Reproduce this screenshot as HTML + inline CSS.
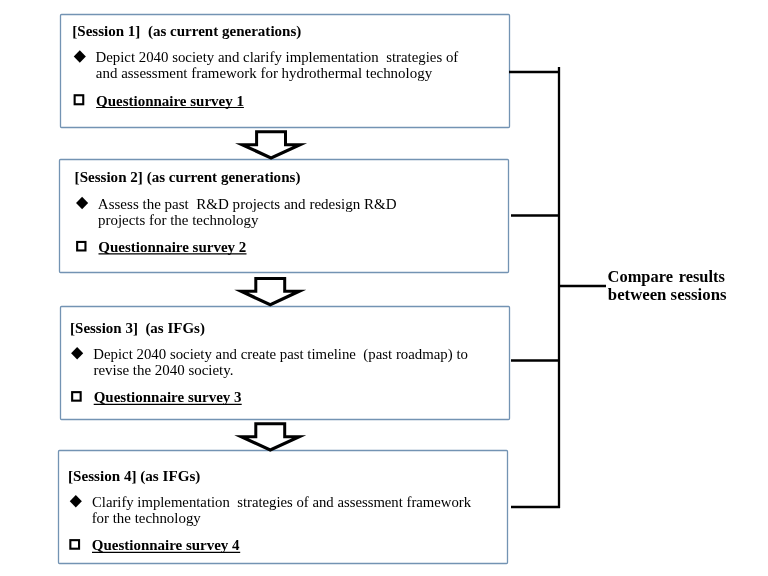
<!DOCTYPE html><html><head><meta charset="utf-8"><style>html,body{margin:0;padding:0;background:#fff;width:768px;height:576px;overflow:hidden}svg{display:block;will-change:transform}text{font-family:"Liberation Serif",serif;white-space:pre;fill:#000}</style></head><body>
<svg width="768" height="576" viewBox="0 0 768 576">
<rect x="60.5" y="14.5" width="449" height="113" rx="1" fill="#fff" stroke="#7393b3" stroke-width="1.3"/>
<rect x="59.5" y="159.5" width="449" height="113" rx="1" fill="#fff" stroke="#7393b3" stroke-width="1.3"/>
<rect x="60.5" y="306.5" width="449" height="113" rx="1" fill="#fff" stroke="#7393b3" stroke-width="1.3"/>
<rect x="58.5" y="450.5" width="449" height="113" rx="1" fill="#fff" stroke="#7393b3" stroke-width="1.3"/>
<polygon points="255.10,130.20 287.00,130.20 287.00,143.15 307.05,143.15 271.05,159.80 235.05,143.15 255.10,143.15" fill="#000"/>
<polygon points="258.10,133.20 284.00,133.20 284.00,146.15 292.82,146.15 271.05,156.22 249.28,146.15 258.10,146.15" fill="#fff"/>
<polygon points="254.30,276.90 286.20,276.90 286.20,289.85 306.25,289.85 270.25,306.50 234.25,289.85 254.30,289.85" fill="#000"/>
<polygon points="257.30,279.90 283.20,279.90 283.20,292.85 292.02,292.85 270.25,302.92 248.48,292.85 257.30,292.85" fill="#fff"/>
<polygon points="254.30,422.20 286.20,422.20 286.20,435.15 306.25,435.15 270.25,451.80 234.25,435.15 254.30,435.15" fill="#000"/>
<polygon points="257.30,425.20 283.20,425.20 283.20,438.15 292.02,438.15 270.25,448.22 248.48,438.15 257.30,438.15" fill="#fff"/>
<g stroke="#000" stroke-width="2.3" fill="none">
<line x1="559" y1="67" x2="559" y2="508"/>
<line x1="509" y1="72" x2="560" y2="72"/>
<line x1="511" y1="215.5" x2="560" y2="215.5"/>
<line x1="511" y1="360.5" x2="560" y2="360.5"/>
<line x1="511" y1="507" x2="560" y2="507"/>
<line x1="558" y1="286" x2="606" y2="286"/>
</g>
<polygon points="79.8,50.30 85.85,56.5 79.8,62.70 73.75,56.5" fill="#000"/>
<polygon points="82.1,196.80 88.15,203.0 82.1,209.20 76.05,203.0" fill="#000"/>
<polygon points="77.15,347.10 83.20,353.3 77.15,359.50 71.10,353.3" fill="#000"/>
<polygon points="75.8,495.05 81.85,501.25 75.8,507.45 69.75,501.25" fill="#000"/>
<rect x="74.65" y="95.25" width="8.60" height="9.00" fill="none" stroke="#000" stroke-width="2.1"/>
<rect x="77.15" y="241.95" width="8.30" height="8.50" fill="none" stroke="#000" stroke-width="2.1"/>
<rect x="72.15" y="392.15" width="8.50" height="8.50" fill="none" stroke="#000" stroke-width="2.1"/>
<rect x="70.35" y="540.15" width="8.70" height="8.55" fill="none" stroke="#000" stroke-width="2.1"/>
<text x="72.27" y="36" font-size="14.2" font-weight="bold" textLength="229.04" lengthAdjust="spacingAndGlyphs">[Session 1]  (as current generations)</text>
<text x="95.45" y="62" font-size="14" font-weight="normal" textLength="362.86" lengthAdjust="spacingAndGlyphs">Depict 2040 society and clarify implementation  strategies of</text>
<text x="95.89" y="78" font-size="14" font-weight="normal" textLength="336.22" lengthAdjust="spacingAndGlyphs">and assessment framework for hydrothermal technology</text>
<text x="96.04" y="106" font-size="13.7" font-weight="bold" textLength="147.93" lengthAdjust="spacingAndGlyphs">Questionnaire survey 1</text>
<line x1="96.10000000000001" y1="107.5" x2="243.9" y2="107.5" stroke="#000" stroke-width="1.2"/>
<text x="74.61" y="182" font-size="14.2" font-weight="bold" textLength="225.82" lengthAdjust="spacingAndGlyphs">[Session 2] (as current generations)</text>
<text x="97.84" y="209" font-size="14" font-weight="normal" textLength="298.78" lengthAdjust="spacingAndGlyphs">Assess the past  R&amp;D projects and redesign R&amp;D</text>
<text x="98.07" y="225" font-size="14" font-weight="normal" textLength="160.38" lengthAdjust="spacingAndGlyphs">projects for the technology</text>
<text x="98.39" y="252" font-size="13.7" font-weight="bold" textLength="147.91" lengthAdjust="spacingAndGlyphs">Questionnaire survey 2</text>
<line x1="98.5" y1="253.9" x2="246.5" y2="253.9" stroke="#000" stroke-width="1.2"/>
<text x="70.09" y="333" font-size="14.2" font-weight="bold" textLength="134.81" lengthAdjust="spacingAndGlyphs">[Session 3]  (as IFGs)</text>
<text x="93.30" y="359" font-size="14" font-weight="normal" textLength="374.66" lengthAdjust="spacingAndGlyphs">Depict 2040 society and create past timeline  (past roadmap) to</text>
<text x="93.43" y="375" font-size="14" font-weight="normal" textLength="140.07" lengthAdjust="spacingAndGlyphs">revise the 2040 society.</text>
<text x="93.65" y="402" font-size="13.7" font-weight="bold" textLength="147.96" lengthAdjust="spacingAndGlyphs">Questionnaire survey 3</text>
<line x1="93.7" y1="404.3" x2="241.70000000000002" y2="404.3" stroke="#000" stroke-width="1.2"/>
<text x="68.08" y="481" font-size="14.2" font-weight="bold" textLength="132.24" lengthAdjust="spacingAndGlyphs">[Session 4] (as IFGs)</text>
<text x="91.97" y="507" font-size="14" font-weight="normal" textLength="379.16" lengthAdjust="spacingAndGlyphs">Clarify implementation  strategies of and assessment framework</text>
<text x="91.66" y="523" font-size="14" font-weight="normal" textLength="109.12" lengthAdjust="spacingAndGlyphs">for the technology</text>
<text x="91.83" y="550" font-size="13.7" font-weight="bold" textLength="147.76" lengthAdjust="spacingAndGlyphs">Questionnaire survey 4</text>
<line x1="92.0" y1="552.4" x2="240.20000000000002" y2="552.4" stroke="#000" stroke-width="1.2"/>
<text x="607.57" y="282" font-size="15.8" font-weight="bold" textLength="117.33" lengthAdjust="spacingAndGlyphs" style="word-spacing:1.6px">Compare results</text>
<text x="607.82" y="300" font-size="15.8" font-weight="bold" textLength="118.68" lengthAdjust="spacingAndGlyphs">between sessions</text>
</svg></body></html>
